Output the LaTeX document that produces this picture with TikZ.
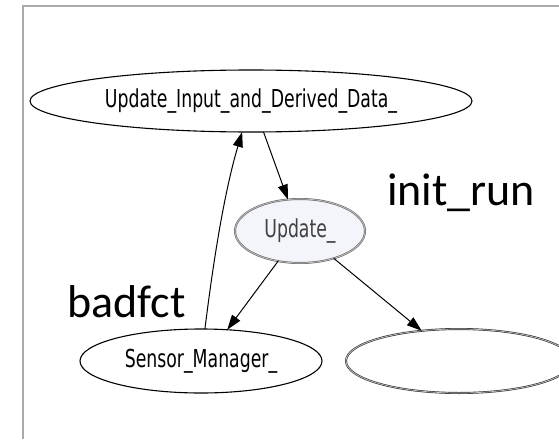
\documentclass[tikz,border=0pt]{standalone}
\usepackage{fontspec}
\usepackage{graphicx}
\usetikzlibrary{shapes.geometric,arrows.meta}
\newfontfamily\gvfont{DejaVu Sans}
\newfontfamily\labfont{Carlito}
\definecolor{framegray}{HTML}{AAAAAA}
\definecolor{updfill}{HTML}{F4F5FB}
\definecolor{ringdark}{HTML}{6A6A6A}
\newcommand{\gvtext}[1]{\scalebox{0.7}[1]{\gvfont\fontsize{24.7}{28}\selectfont #1}}
\tikzset{
  gvnode/.style={ellipse, draw=black, line width=1.1pt, inner sep=0pt, outer sep=0pt},
  ringnode/.style={ellipse, draw=ringdark, line width=2pt, inner sep=0pt, outer sep=0pt,
    postaction={draw=gray!45, line width=0.7pt}},
  edge/.style={draw=black, line width=1pt, -{Triangle[length=15pt,width=10pt]}},
  biglabel/.style={anchor=base west, inner sep=0pt, font=\labfont\fontsize{46}{50}\selectfont}
}
\begin{document}
\begin{tikzpicture}[x=1pt,y=1pt]
\useasboundingbox (0,0) rectangle (559,-439);
\clip (0,0) rectangle (559,-439);
% frame
\draw[framegray, line width=1.4pt] (559,-6) -- (23,-6) -- (23,-439);
% nodes
\node[gvnode, minimum width=442pt, minimum height=62pt] (top) at (251,-101) {\gvtext{Update\_Input\_and\_Derived\_Data\_}};
\node[ringnode, fill=updfill, minimum width=130pt, minimum height=64pt, text=black!75] (upd) at (300,-231) {\gvtext{Update\_}};
\node[gvnode, minimum width=242pt, minimum height=64pt] (sens) at (201,-361) {\gvtext{Sensor\_Manager\_}};
\node[ringnode, fill=white, draw=black!80, minimum width=226pt, minimum height=64pt] (rgt) at (459,-361) {};
% labels
\node[biglabel] (lbad) at (67,-317) {badfct};
\node[biglabel] (linit) at (387,-205) {init\_run};
% edges
\draw[edge] (top.-68) -- (upd.111);
\draw[edge] (upd.-126) -- (sens.50);
\draw[edge] (upd.-39) -- (rgt.141);
\draw[edge] (sens.83) .. controls (211,-280) and (222,-200) .. (top.-106);
\end{tikzpicture}
\end{document}
